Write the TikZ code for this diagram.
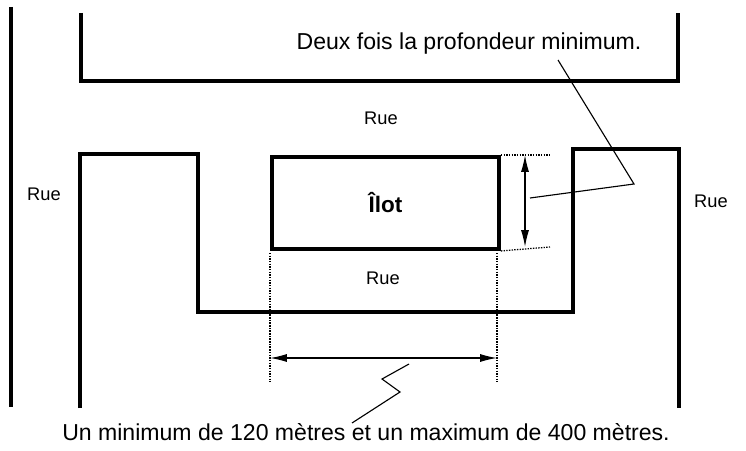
\documentclass[tikz,border=0pt]{standalone}
\usepackage{fontspec}
\setmainfont{Liberation Sans}
\usetikzlibrary{arrows.meta, calc}
\tikzset{
  mur/.style={line width=2.8pt, line join=miter},
  repere/.style={dash pattern=on 1pt off 0.9pt, line width=0.9pt},
  cote/.style={line width=0.9pt, {Latex[length=4.2mm,width=2mm]}-{Latex[length=4.2mm,width=2mm]}},
  renvoi/.style={line width=0.8pt},
  rue/.style={font=\fontsize{13}{15}\selectfont},
  legende/.style={font=\fontsize{16.4}{19}\selectfont}
}
\begin{document}
\begin{tikzpicture}
        \useasboundingbox (0,0) rectangle (18.65,11.25);

        % Bords des rues
        \draw[mur] (0.275,11.075) -- (0.275,1.075);
        \draw[mur] (2.025,10.925) -- (2.025,9.225) -- (16.95,9.225) -- (16.95,10.925);
        \draw[mur] (2.0,1.05) -- (2.0,7.4) -- (4.95,7.4) -- (4.95,3.45) -- (14.325,3.45)
                   -- (14.325,7.525) -- (16.975,7.525) -- (16.975,1.05);

        % Îlot
        \node[mur, draw, anchor=north west, inner sep=0pt, minimum width=5.675cm, minimum height=2.3cm,
              font=\fontsize{16}{19}\selectfont\bfseries] (ilot) at (6.75,7.375) {Îlot};

        % Noms des rues
        \node[rue] (rueHaut) at (9.525,8.3) {Rue};
        \node[rue] (rueGauche) at (1.1,6.4) {Rue};
        \node[rue] (rueDroite) at (17.775,6.225) {Rue};
        \node[rue] (rueBas) at (9.575,4.3) {Rue};

        % Profondeur
        \coordinate (rh) at (13.75,7.375);
        \coordinate (rb) at (13.75,5.075);
        \coordinate (ch) at (13.125,7.375);
        \coordinate (cb) at (13.125,5.075);
        \draw[repere] (ilot.north east) -- (rh);
        \draw[repere] (ilot.south east) -- (rb);
        \draw[cote] (ch) -- (cb);

        \node[legende] (profondeur) at (11.725,10.15) {Deux fois la profondeur minimum.};
        \coordinate (depart) at (13.95,9.75);
        \coordinate (coude) at (15.85,6.65);
        \coordinate (pointe) at (13.25,6.3);
        \draw[renvoi] (depart) -- (coude) -- (pointe);

        % Longueur
        \coordinate (gh) at (6.75,4.925);
        \coordinate (gb) at (6.75,1.7);
        \coordinate (dh) at (12.425,4.925);
        \coordinate (db) at (12.425,1.7);
        \draw[repere] (gh) -- (gb);
        \draw[repere] (dh) -- (db);
        \draw[cote] (gh |- 0,2.3) -- (dh |- 0,2.3);

        \node[legende] (longueur) at (9.15,0.45) {Un minimum de 120 mètres et un maximum de 400 mètres.};
        \coordinate (z1) at (10.225,2.15);
        \coordinate (z2) at (9.55,1.775);
        \coordinate (z3) at (10.0,1.45);
        \coordinate (z4) at (8.8,0.675);
        \draw[renvoi] (z1) -- (z2) -- (z3) -- (z4);
    \end{tikzpicture}
\end{document}
